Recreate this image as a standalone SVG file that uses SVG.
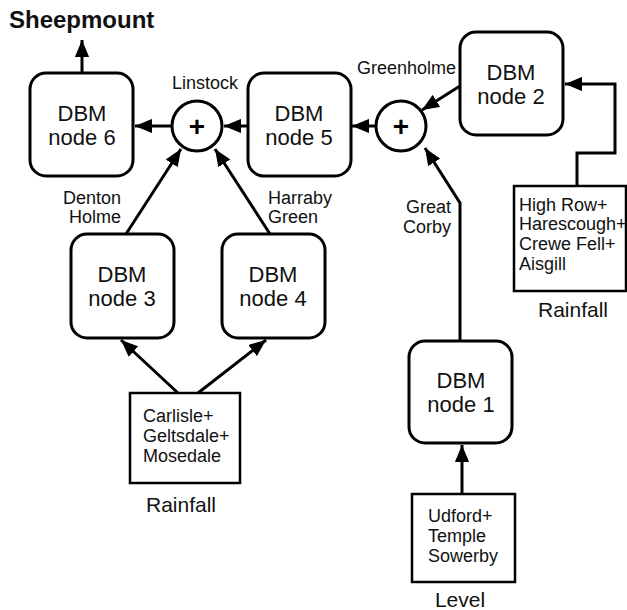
<svg xmlns="http://www.w3.org/2000/svg" width="627" height="610" viewBox="0 0 627 610">
<defs>
<style>
.n{fill:#fff;stroke:#000;stroke-width:3}
.b{fill:#fff;stroke:#000;stroke-width:2.5}
.t{font-family:"Liberation Sans",Arial,sans-serif;font-size:22px;fill:#111;text-anchor:middle}
.r{font-family:"Liberation Sans",Arial,sans-serif;font-size:21px;fill:#111;text-anchor:middle}
.s{font-family:"Liberation Sans",Arial,sans-serif;font-size:18px;fill:#111}
.l{font-family:"Liberation Sans",Arial,sans-serif;font-size:18px;fill:#111}
.c{fill:none;stroke:#000;stroke-width:3}
.p{font-family:"Liberation Sans",Arial,sans-serif;font-size:28px;font-weight:bold;fill:#000;text-anchor:middle}
</style>
<marker id="a" viewBox="0 0 12 10" refX="12" refY="5" markerWidth="5.7" markerHeight="4.75" markerUnits="strokeWidth" orient="auto"><path d="M0,0 L12,5 L0,10 z" fill="#000"/></marker>
</defs>
<text x="9" y="28" font-family="Liberation Sans,Arial,sans-serif" font-size="24" font-weight="bold" fill="#111">Sheepmount</text>
<g id="connectors">
<path class="c" d="M82,73 V40" marker-end="url(#a)"/>
<path class="c" d="M171,126 H135" marker-end="url(#a)"/>
<path class="c" d="M248,126 H224" marker-end="url(#a)"/>
<path class="c" d="M375,126 H352" marker-end="url(#a)"/>
<path class="c" d="M460,86 L422,110" marker-end="url(#a)"/>
<path class="c" d="M577,186 V153 H615 V84 H565" marker-end="url(#a)"/>
<path class="c" d="M460,342 V203 L425,148" marker-end="url(#a)"/>
<path class="c" d="M462,494 V445" marker-end="url(#a)"/>
<path class="c" d="M126,234 L181,149" marker-end="url(#a)"/>
<path class="c" d="M270,234 L215,149" marker-end="url(#a)"/>
<path class="c" d="M178,393 L121,340" marker-end="url(#a)"/>
<path class="c" d="M198,393 L266,340" marker-end="url(#a)"/>
</g>
<g id="node6"><rect class="n" x="30" y="73" width="103" height="103" rx="16"/><text class="t" x="82" y="121">DBM</text><text class="t" x="82" y="145">node 6</text></g>
<g id="node5"><rect class="n" x="248" y="73" width="103" height="103" rx="16"/><text class="t" x="299" y="121">DBM</text><text class="t" x="299" y="145">node 5</text></g>
<g id="node2"><rect class="n" x="460" y="32" width="103" height="103" rx="16"/><text class="t" x="511" y="80">DBM</text><text class="t" x="511" y="104">node 2</text></g>
<g id="node3"><rect class="n" x="71" y="234" width="103" height="104" rx="16"/><text class="t" x="122" y="282">DBM</text><text class="t" x="122" y="306">node 3</text></g>
<g id="node4"><rect class="n" x="222" y="234" width="103" height="104" rx="16"/><text class="t" x="273" y="282">DBM</text><text class="t" x="273" y="306">node 4</text></g>
<g id="node1"><rect class="n" x="409" y="341" width="103" height="102" rx="16"/><text class="t" x="461" y="388">DBM</text><text class="t" x="461" y="412">node 1</text></g>
<g id="sum1"><circle class="n" cx="197" cy="126" r="25"/><text class="p" x="197" y="136">+</text><text class="l" x="205" y="89" text-anchor="middle">Linstock</text></g>
<g id="sum2"><circle class="n" cx="401" cy="126" r="25"/><text class="p" x="401" y="136">+</text><text class="l" x="456" y="74" text-anchor="end">Greenholme</text></g>
<g id="labels">
<text class="l" x="121" y="204" text-anchor="end">Denton</text><text class="l" x="121" y="223" text-anchor="end">Holme</text>
<text class="l" x="268" y="204">Harraby</text><text class="l" x="268" y="223">Green</text>
<text class="l" x="451" y="213" text-anchor="end">Great</text><text class="l" x="451" y="233" text-anchor="end">Corby</text>
</g>
<g id="rainfall1"><rect class="b" x="130" y="393" width="110" height="90"/><text class="s" x="143" y="422">Carlisle+</text><text class="s" x="143" y="442">Geltsdale+</text><text class="s" x="143" y="462">Mosedale</text><text class="r" x="181" y="512">Rainfall</text></g>
<g id="rainfall2"><rect class="b" x="514" y="186" width="112" height="105"/><text class="s" x="519" y="211">High Row+</text><text class="s" x="519" y="230">Harescough+</text><text class="s" x="519" y="250">Crewe Fell+</text><text class="s" x="519" y="270">Aisgill</text><text class="r" x="573" y="317">Rainfall</text></g>
<g id="level"><rect class="b" x="412" y="494" width="103" height="88"/><text class="s" x="428" y="522">Udford+</text><text class="s" x="428" y="542">Temple</text><text class="s" x="428" y="562">Sowerby</text><text class="r" x="460" y="607">Level</text></g>
</svg>
